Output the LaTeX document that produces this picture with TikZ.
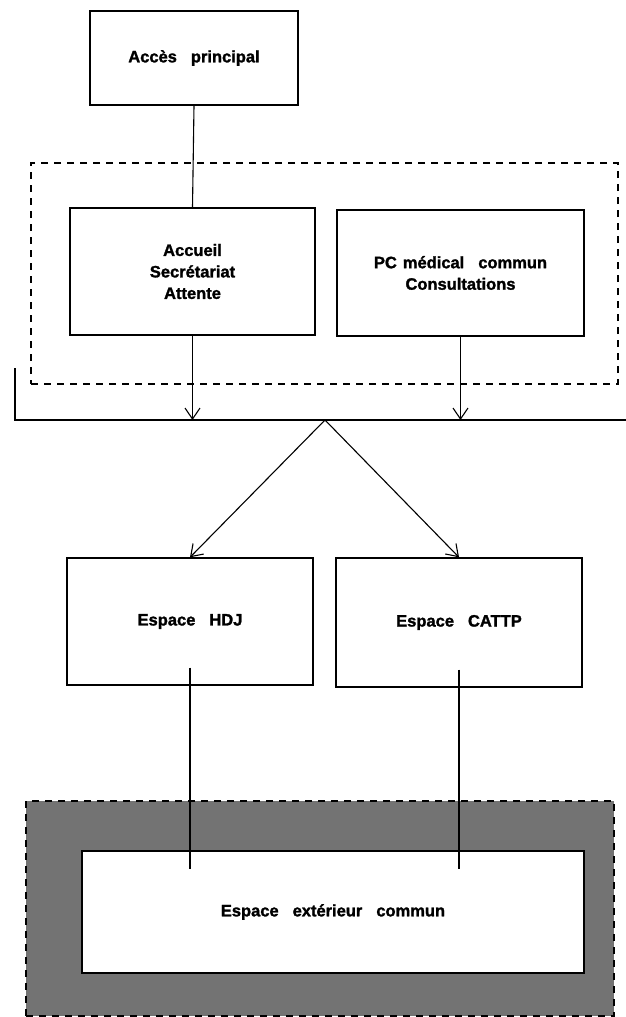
\documentclass[tikz,border=0pt]{standalone}
\usepackage{fontspec}
\setmainfont[FakeBold=1.5]{Liberation Sans}
\usetikzlibrary{arrows.meta,calc}
\newcommand{\wgap}{\hspace{14pt}}
\begin{document}
\begin{tikzpicture}[x=1pt,y=-1pt,
  box/.style={draw, line width=1.4pt, inner sep=0pt, align=center,
    font=\fontsize{16.5}{21.5}\selectfont\bfseries},
  frame/.style={draw, line width=2pt, dash pattern=on 7pt off 6pt, inner sep=0pt},
  conn/.style={line width=1.1pt},
  arr/.style={conn, -{Straight Barb[length=11pt,width=15pt,line width=1.1pt]}}]
\useasboundingbox (0,0) rectangle (626,1017);
\fill[white] (0,0) rectangle (626,1017);
% dashed frame around the first level
\node[frame, minimum width=587pt, minimum height=221pt] (grp) at (324.5,273.5) {};
% outer grey zone
\node[frame, fill=black!55, minimum width=588pt, minimum height=215pt] (ext) at (320,908.5) {};
% boxes
\node[box, minimum width=208pt, minimum height=94pt] (acces) at (194,58) {Accès\wgap principal};
\node[box, minimum width=245pt, minimum height=127pt] (accueil) at (192.5,271.5) {Accueil\\Secrétariat\\Attente};
\node[box, minimum width=247pt, minimum height=126pt] (pc) at (460.5,273) {PC\hspace{6pt}médical\wgap commun\\Consultations};
\node[box, minimum width=246pt, minimum height=127pt] (hdj) at (190,621.5) {Espace\wgap HDJ};
\node[box, minimum width=246pt, minimum height=129pt] (cattp) at (459,622.5) {Espace\wgap CATTP};
\node[box, fill=white, minimum width=502pt, minimum height=122pt] (commun) at (333,912) {Espace\wgap extérieur\wgap commun};
% bus
\coordinate (tick) at (15,368);
\coordinate (busL) at (15,420);
\coordinate (busR) at (626,420);
\coordinate (apex) at (325,420);
\draw[conn] (tick) -- (busL) -- (busR);
% connectors
\draw[conn] (acces.south) -- (accueil.north);
\draw[arr] (accueil.south) -- (accueil.south |- busL);
\draw[arr] (pc.south) -- (pc.south |- busL);
\draw[arr] (apex) -- (hdj.north);
\draw[arr] (apex) -- (cattp.north);
\draw[conn] ($(hdj.south)+(0,-18)$) -- ($(hdj.south |- commun.north)+(0,19)$);
\draw[conn] ($(cattp.south)+(0,-18)$) -- ($(cattp.south |- commun.north)+(0,19)$);
\end{tikzpicture}
\end{document}
